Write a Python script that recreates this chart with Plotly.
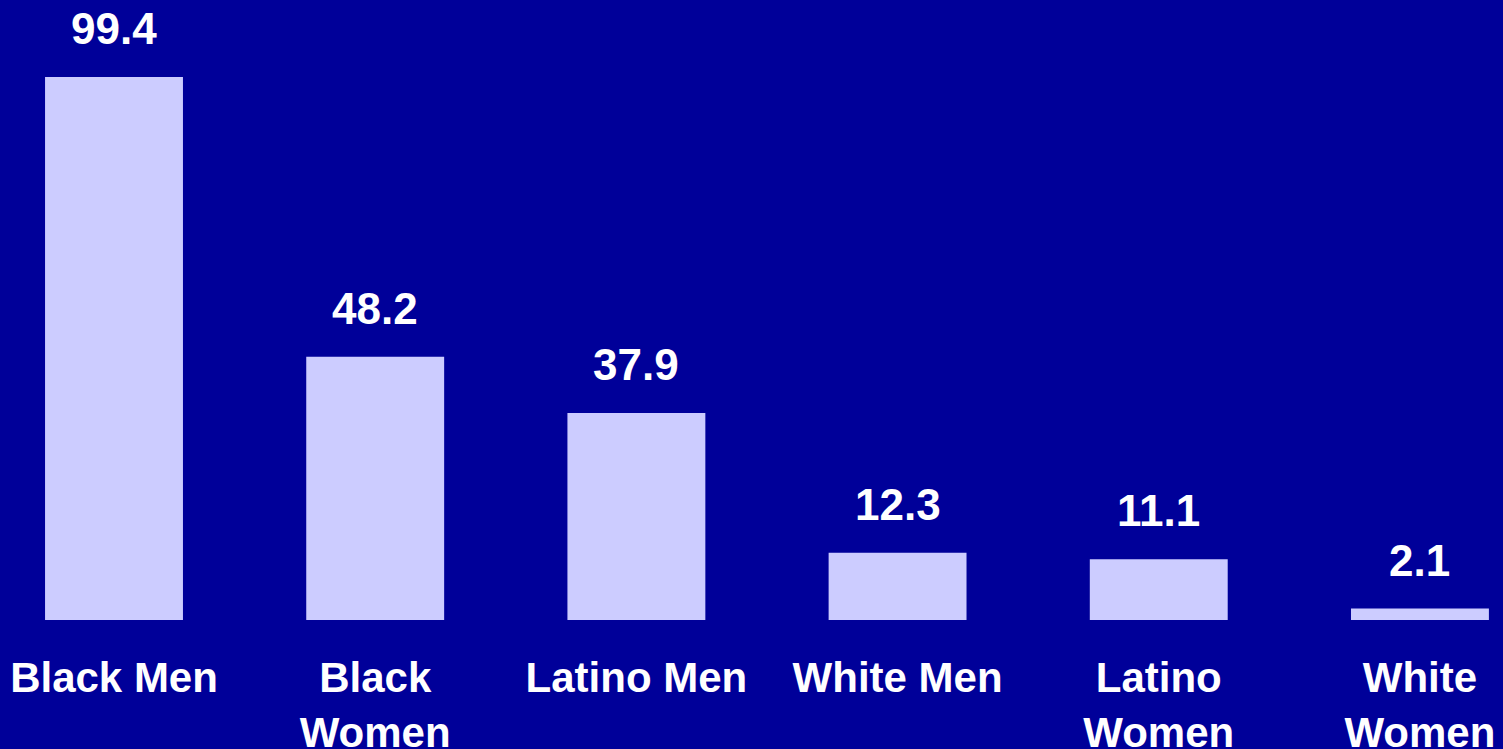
import plotly.graph_objects as go

categories = ["Black Men", "Black Women", "Latino Men", "White Men", "Latino Women", "White Women"]
tick_labels = ["Black Men", "Black<br>Women", "Latino Men", "White Men", "Latino<br>Women", "White<br>Women"]
values = [99.4, 48.2, 37.9, 12.3, 11.1, 2.1]

FONT = "Liberation Sans, Arial, sans-serif"
BG = "#000099"
BAR = "#CCCCFF"

fig = go.Figure()
fig.add_trace(go.Bar(
    x=categories, y=values, marker=dict(color=BAR, line=dict(width=0)),
    width=0.528, hoverinfo="skip",
))

for c, v in zip(categories, values):
    fig.add_annotation(
        x=c, y=v, text=f"<b>{v:.1f}</b>", showarrow=False,
        yanchor="bottom", xanchor="center", yshift=22,
        font=dict(family=FONT, size=44, color="white"),
    )

fig.update_layout(
    width=1503, height=749,
    margin=dict(l=0, r=0, t=0, b=129),
    paper_bgcolor=BG, plot_bgcolor=BG,
    showlegend=False,
    font=dict(family=FONT, color="white"),
    xaxis=dict(
        range=[-0.4365, 5.318],
        tickmode="array", tickvals=categories,
        ticktext=[f"<b>{t}</b>" for t in tick_labels],
        tickfont=dict(family=FONT, size=42, color="white"),
        showgrid=False, zeroline=False, showline=False, ticks="",
        ticklabelstandoff=29, automargin=False,
    ),
    yaxis=dict(range=[0, 113.5], visible=False, showgrid=False, zeroline=False,
               automargin=False),
)

fig.write_html(
    "out.html",
    config={"displayModeBar": False},
    post_script="document.body.style.margin='0';document.body.style.overflow='hidden';",
)
